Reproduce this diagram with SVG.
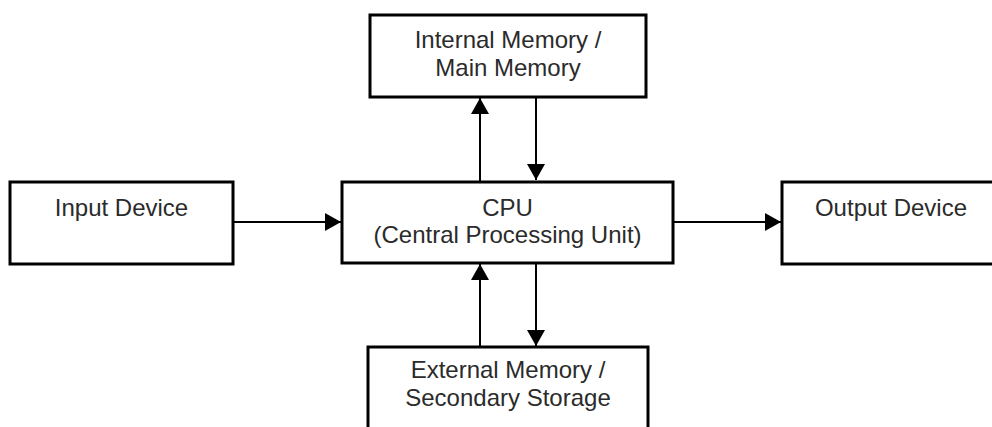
<svg xmlns="http://www.w3.org/2000/svg" width="992" height="427" viewBox="0 0 992 427">
  <style>
    .box { fill: #ffffff; stroke: #000000; stroke-width: 3; }
    .label { font-family: "Liberation Sans", Arial, sans-serif; font-size: 24px; fill: #2b2b2b; text-anchor: middle; }
    .link { stroke: #000000; stroke-width: 2; fill: none; marker-end: url(#arrow); }
  </style>
  <defs>
    <marker id="arrow" viewBox="0 0 16 18" refX="16" refY="9" markerWidth="16" markerHeight="18" markerUnits="userSpaceOnUse" orient="auto">
      <path d="M0,0 L16,9 L0,18 Z" fill="#000000"/>
    </marker>
  </defs>
  <rect width="992" height="427" fill="#ffffff"/>

  <g id="connectors">
    <line class="link" x1="233" y1="222" x2="341" y2="222"/>
    <line class="link" x1="673" y1="222" x2="781" y2="222"/>
    <line class="link" x1="480" y1="181" x2="480" y2="98"/>
    <line class="link" x1="536" y1="97" x2="536" y2="180"/>
    <line class="link" x1="480" y1="347" x2="480" y2="264"/>
    <line class="link" x1="536" y1="263" x2="536" y2="346"/>
  </g>

  <g id="internal-memory">
    <rect class="box" x="370" y="15" width="276" height="82"/>
    <text class="label" x="508" y="48">Internal Memory /</text>
    <text class="label" x="508" y="76">Main Memory</text>
  </g>

  <g id="input-device">
    <rect class="box" x="10" y="182" width="223" height="82"/>
    <text class="label" x="121.5" y="216">Input Device</text>
  </g>

  <g id="cpu">
    <rect class="box" x="342" y="182" width="331" height="81"/>
    <text class="label" x="507.5" y="216">CPU</text>
    <text class="label" x="507.5" y="243">(Central Processing Unit)</text>
  </g>

  <g id="output-device">
    <rect class="box" x="782" y="182" width="220" height="82"/>
    <text class="label" x="891" y="216">Output Device</text>
  </g>

  <g id="external-memory">
    <rect class="box" x="368" y="347" width="280" height="100"/>
    <text class="label" x="508" y="378">External Memory /</text>
    <text class="label" x="508" y="406">Secondary Storage</text>
  </g>
</svg>
